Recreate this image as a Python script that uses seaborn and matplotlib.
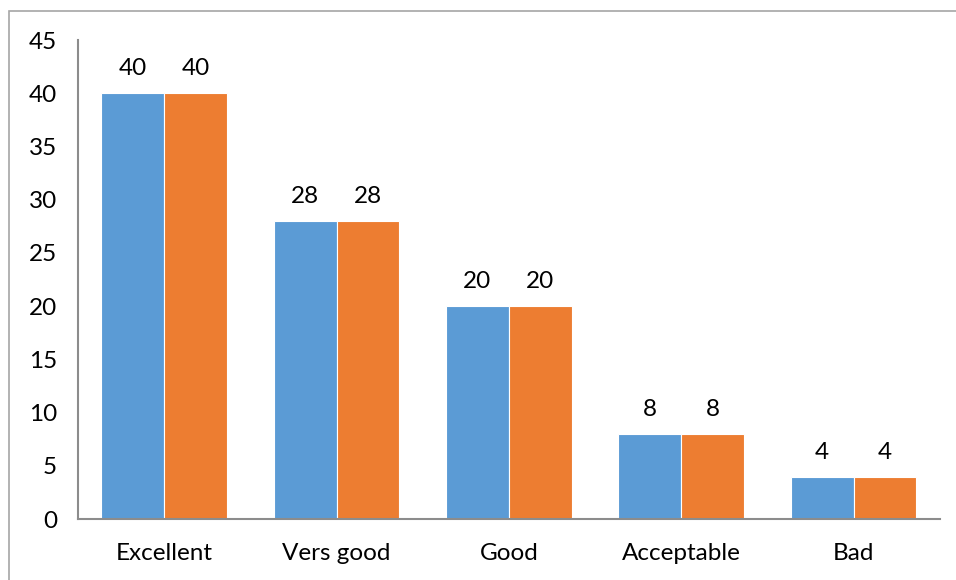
import pandas as pd
import seaborn as sns
import matplotlib.pyplot as plt
from matplotlib.patches import Rectangle

# данные графика
categories = ['Excellent', 'Vers good', 'Good', 'Acceptable', 'Bad']
series1 = [40, 28, 20, 8, 4]
series2 = [40, 28, 20, 8, 4]

df = pd.DataFrame({
    'category': categories * 2,
    'value': series1 + series2,
    'series': ['Series1'] * len(categories) + ['Series2'] * len(categories),
})

sns.set_style('white')
plt.rcParams['font.family'] = ['Lato', 'DejaVu Sans']

fig = plt.figure(figsize=(9.56, 5.8), dpi=100)
ax = fig.add_axes([0.0816, 0.105, 0.9014, 0.826])

graph = sns.barplot(data=df, x='category', y='value', hue='series',
                    palette=['#5B9BD5', '#ED7D31'], saturation=1,
                    width=0.73, gap=0,
                    edgecolor='white', linewidth=0.8, legend=False, ax=ax)

# подписи значений над столбцами
for c in graph.containers:
    graph.bar_label(c, padding=10, fontsize=17.5, color='#000000')

ax.set_ylim(0, 45)
ax.set_yticks(range(0, 46, 5))
ax.set_xlabel('')
ax.set_ylabel('')
ax.tick_params(axis='both', length=0, labelsize=17.5, colors='#000000')
ax.tick_params(axis='y', pad=15)
ax.tick_params(axis='x', pad=17)

for side in ['top', 'right']:
    ax.spines[side].set_visible(False)
for side in ['left', 'bottom']:
    ax.spines[side].set_color('#8c8c8c')
    ax.spines[side].set_linewidth(1.5)

# рамка вокруг области графика
fig.patches.append(Rectangle((0.0094, -0.05), 1.1, 1.031, transform=fig.transFigure,
                             fill=False, edgecolor='#a6a6a6', linewidth=1.2))

plt.savefig('out.png', dpi=100)
